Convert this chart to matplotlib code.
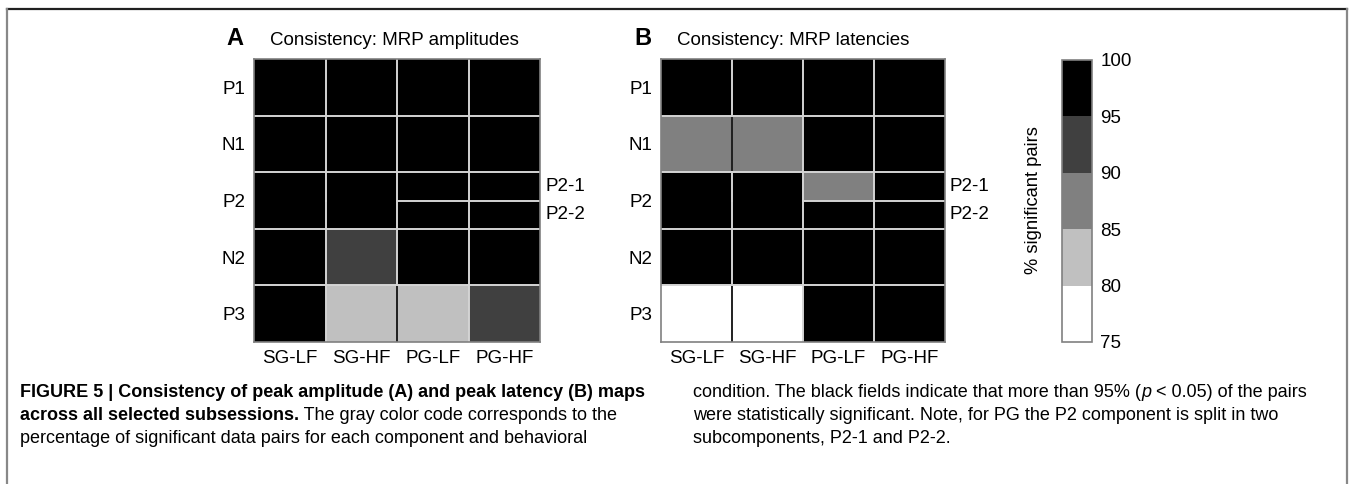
import numpy as np
import matplotlib
matplotlib.use("Agg")
import matplotlib.pyplot as plt
from matplotlib.colors import ListedColormap, BoundaryNorm
from matplotlib.cm import ScalarMappable

plt.rcParams['font.family'] = ['Liberation Sans', 'DejaVu Sans']

# data: rows in half-row units, P2 is split into P2-1 / P2-2 for PG columns
columns = ['SG-LF', 'SG-HF', 'PG-LF', 'PG-HF']
row_labels = ['P1', 'N1', 'P2', 'N2', 'P3']
sub_rows = ['P1', 'N1', 'P2-1', 'P2-2', 'N2', 'P3']
row_edges = [0, 2, 4, 5, 6, 8, 10]
split_cols = [False, False, True, True]

amplitudes = [
    [97.5, 97.5, 97.5, 97.5],   # P1
    [97.5, 97.5, 97.5, 97.5],   # N1
    [97.5, 97.5, 97.5, 97.5],   # P2-1
    [97.5, 97.5, 97.5, 97.5],   # P2-2
    [97.5, 92.5, 97.5, 97.5],   # N2
    [97.5, 82.5, 82.5, 92.5],   # P3
]
latencies = [
    [97.5, 97.5, 97.5, 97.5],
    [87.5, 87.5, 97.5, 97.5],
    [97.5, 97.5, 87.5, 97.5],
    [97.5, 97.5, 97.5, 97.5],
    [97.5, 97.5, 97.5, 97.5],
    [77.5, 77.5, 97.5, 97.5],
]
bounds = [75, 80, 85, 90, 95, 100]
grays = ['#ffffff', '#c0c0c0', '#808080', '#404040', '#000000']

cmap = ListedColormap(grays)
norm = BoundaryNorm(bounds, cmap.N)

W, H = 1350, 484
fig = plt.figure(figsize=(W / 100, H / 100), dpi=100)
fs = 13.5


def px_axes(x0, y0, x1, y1):
    return fig.add_axes([x0 / W, 1 - y1 / H, (x1 - x0) / W, (y1 - y0) / H])


def draw_map(ax, vals, letter, title):
    v = np.array(vals)
    ax.pcolormesh(np.arange(5), row_edges, v, cmap=cmap, norm=norm)
    ax.set_xlim(0, 4)
    ax.set_ylim(10, 0)
    light = '#d4d4d4'
    # vertical grid segments
    for j in range(1, 4):
        for i in range(6):
            both_light = v[i, j - 1] < 90 and v[i, j] < 90
            ax.plot([j, j], [row_edges[i], row_edges[i + 1]],
                    color='#202020' if both_light else light, lw=1.4)
    # horizontal grid segments
    for i in range(1, 6):
        for j in range(4):
            if sub_rows[i] == 'P2-2' and not split_cols[j]:
                continue
            both_light = v[i - 1, j] < 90 and v[i, j] < 90
            ax.plot([j, j + 1], [row_edges[i]] * 2,
                    color='#202020' if both_light else light, lw=1.4)
    for s in ax.spines.values():
        s.set_color('#808080')
        s.set_linewidth(1.2)
    ax.set_xticks(np.arange(4) + 0.5)
    ax.set_xticklabels(columns, fontsize=fs)
    ax.set_yticks([1, 3, 5, 7, 9])
    ax.set_yticklabels(row_labels, fontsize=fs)
    ax.tick_params(length=0, pad=6)
    ax.text(4.07, 4.5, 'P2-1', fontsize=fs, va='center', ha='left')
    ax.text(4.07, 5.5, 'P2-2', fontsize=fs, va='center', ha='left')
    ax.text(-0.38, -0.5, letter, fontsize=17, fontweight='bold', ha='left', va='baseline')
    ax.text(0.22, -0.5, title, fontsize=fs, ha='left', va='baseline')


axA = px_axes(254, 59, 540, 342)
draw_map(axA, amplitudes, 'A', 'Consistency: MRP amplitudes')
axB = px_axes(661, 59, 945, 342)
draw_map(axB, latencies, 'B', 'Consistency: MRP latencies')

cax = px_axes(1062, 60, 1092, 342)
cb = fig.colorbar(ScalarMappable(norm=norm, cmap=cmap), cax=cax, ticks=bounds)
cb.outline.set_edgecolor('#808080')
cb.outline.set_linewidth(1.2)
cax.tick_params(length=0, labelsize=fs, pad=6)
fig.text(1033 / W, 1 - 200 / H, '% significant pairs', rotation=90,
         ha='center', va='center', fontsize=13.2)

# frame
fig.add_artist(plt.Line2D([7 / W, 1347 / W], [1 - 8.5 / H] * 2, color='#202020', lw=1.6))
fig.add_artist(plt.Line2D([7 / W, 7 / W], [0, 1 - 8.5 / H], color='#888888', lw=1.6))
fig.add_artist(plt.Line2D([1347 / W, 1347 / W], [0, 1 - 8.5 / H], color='#888888', lw=1.6))

# caption
cap_font = ['Liberation Sans', 'DejaVu Sans']
cap_size = 13
renderer = fig.canvas.get_renderer()


def rich_line(x, y, pieces):
    for txt, weight, style in pieces:
        t = fig.text(x / W, 1 - y / H, txt, fontsize=cap_size, family=cap_font,
                     fontweight=weight, fontstyle=style, ha='left', va='baseline')
        x += t.get_window_extent(renderer).width


left_lines = [
    [('FIGURE 5 | Consistency of peak amplitude (A) and peak latency (B) maps', 'bold', 'normal')],
    [('across all selected subsessions.', 'bold', 'normal'),
     (' The gray color code corresponds to the', 'normal', 'normal')],
    [('percentage of significant data pairs for each component and behavioral', 'normal', 'normal')],
]
right_lines = [
    [('condition. The black fields indicate that more than 95% (', 'normal', 'normal'),
     ('p', 'normal', 'italic'), (' < 0.05) of the pairs', 'normal', 'normal')],
    [('were statistically significant. Note, for PG the P2 component is split in two', 'normal', 'normal')],
    [('subcomponents, P2-1 and P2-2.', 'normal', 'normal')],
]
for k, pieces in enumerate(left_lines):
    rich_line(20, 397 + 23 * k, pieces)
for k, pieces in enumerate(right_lines):
    rich_line(693, 397 + 23 * k, pieces)

fig.savefig('out.png', dpi=100)
